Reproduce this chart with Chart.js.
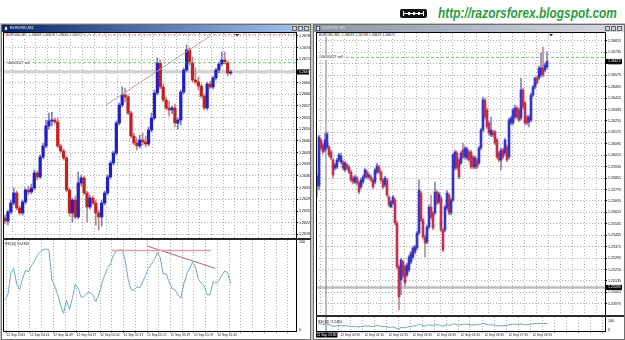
<!DOCTYPE html>
<html>
<head>
<meta charset="utf-8">
<title>EURUSD M1 / M5</title>
<script src="https://cdn.jsdelivr.net/npm/chart.js@4.4.1/dist/chart.umd.min.js"></script>
<style>
  body { margin: 0; width: 625px; height: 340px; position: relative; overflow: hidden; background: #fff; font-family: "Liberation Sans", Arial, sans-serif; }
  .a { position: absolute; }
  canvas { position: absolute; }
  .tiny { position: absolute; font-size: 7px; line-height: 8px; white-space: nowrap; transform: scale(0.5); transform-origin: 0 0; color: #111; }
  .win { background: #fff; border: 1px solid #6f6f6f; box-sizing: border-box; }
  .tbar { position: absolute; height: 7px; }
  .btn { position: absolute; top: 26px; width: 5px; height: 5px; background: #d4d0c8; border: 1px solid #666; box-sizing: border-box; }
  .frame { position: absolute; border: 1px solid #000; box-sizing: border-box; }
  .sep { position: absolute; background: #2a2a2a; }
  #url { left: 438px; top: 4px; font-size: 15px; font-weight: bold; font-style: italic; color: #2e9c3e; white-space: nowrap; transform-origin: 0 0; }
</style>
</head>
<body>

<!-- header -->
<div class="a" style="left:400px;top:9px;width:27px;height:9px;background:#111;border-radius:2px"></div>
<div class="a" style="left:404px;top:13px;width:19px;height:1px;background:#fff"></div>
<div class="a" style="left:403px;top:11px;width:1px;height:5px;background:#fff"></div>
<div class="a" style="left:423px;top:11px;width:1px;height:5px;background:#fff"></div>
<div class="a" style="left:408px;top:12px;width:2px;height:3px;background:#fff"></div>
<div class="a" style="left:413px;top:12px;width:2px;height:3px;background:#fff"></div>
<div class="a" style="left:418px;top:12px;width:2px;height:3px;background:#fff"></div>
<div id="url" class="a">http://razorsforex.blogspot.com</div>

<!-- terminal workspace -->
<div class="a" style="left:0;top:23px;width:625px;height:317px;background:#c9c6bf"></div>
<div class="a win" style="left:1px;top:24px;width:310px;height:316px"></div>
<div class="a win" style="left:313px;top:24px;width:312px;height:316px"></div>

<div class="tbar" style="left:2px;top:25px;width:308px;background:linear-gradient(90deg,#0a246a,#a6caf0)"></div>
<div class="a" style="left:4px;top:26px;width:4px;height:5px;background:#e8e8f8;border:1px solid #335;box-sizing:border-box"></div>
<div class="tiny" style="left:10px;top:25.5px;color:#fff;font-size:8px">EURUSD,M1</div>
<div class="btn" style="left:292px"></div><div class="btn" style="left:298px"></div><div class="btn" style="left:304px"></div>

<div class="tbar" style="left:314px;top:25px;width:310px;background:linear-gradient(90deg,#8a94a4,#d4dae4)"></div>
<div class="a" style="left:316px;top:26px;width:4px;height:5px;background:#e8e8f8;border:1px solid #557;box-sizing:border-box"></div>
<div class="tiny" style="left:322px;top:25.5px;color:#e4e4e4;font-size:8px">EURUSD,M5</div>
<div class="btn" style="left:605px"></div><div class="btn" style="left:611px"></div><div class="btn" style="left:617px"></div>

<canvas id="mainL" width="307" height="205" style="left:3px;top:33px"></canvas>
<canvas id="rsiL" width="307" height="98" style="left:3px;top:240px"></canvas>
<canvas id="mainR" width="307" height="282" style="left:316px;top:33px"></canvas>
<canvas id="rsiR" width="307" height="21" style="left:316px;top:317px"></canvas>

<div class="frame" style="left:3px;top:32px;width:294px;height:300px"></div>
<div class="sep" style="left:3px;top:238px;width:308px;height:2px"></div>
<div class="frame" style="left:316px;top:32px;width:290px;height:300px"></div>
<div class="sep" style="left:316px;top:315px;width:308px;height:2px"></div>

<div class="tiny" style="left:5px;top:33px;background:#fff;padding:0 2px">EURUSD,M1&nbsp; 1.26669 1.26678 1.26663 1.26672</div>
<div class="tiny" style="left:318px;top:33px;background:#fff;padding:0 2px">EURUSD,M5&nbsp; 1.26633 1.26738 1.26619 1.26672</div>
<div class="tiny" style="left:5px;top:241.5px;font-size:6.5px">RSI(14) 53.4333</div>
<div class="tiny" style="left:318px;top:320px;font-size:6.5px">RSI(14) 71.5464</div>

<script>
// ---------- left window: EURUSD M1 ----------
const openL = [1.26234, 1.26225, 1.26252, 1.26279, 1.26309, 1.26264, 1.26249, 1.26282, 1.26318, 1.26312,
  1.26324, 1.26369, 1.26357, 1.26417, 1.26450, 1.26510, 1.26525, 1.26528, 1.26522, 1.26450,
  1.26435, 1.26414, 1.26318, 1.26249, 1.26288, 1.26237, 1.26339, 1.26354, 1.26309, 1.26267,
  1.26294, 1.26279, 1.26249, 1.26237, 1.26279, 1.26309, 1.26357, 1.26399, 1.26429, 1.26519,
  1.26573, 1.26603, 1.26597, 1.26549, 1.26480, 1.26459, 1.26450, 1.26468, 1.26462, 1.26456,
  1.26498, 1.26534, 1.26609, 1.26699, 1.26627, 1.26588, 1.26564, 1.26558, 1.26564, 1.26519,
  1.26528, 1.26612, 1.26678, 1.26738, 1.26699, 1.26648, 1.26642, 1.26630, 1.26600, 1.26564,
  1.26636, 1.26627, 1.26654, 1.26678, 1.26696, 1.26708, 1.26699, 1.26669];
const highL = [1.26243, 1.26258, 1.26288, 1.26324, 1.26315, 1.26270, 1.26288, 1.26324, 1.26330, 1.26336,
  1.26378, 1.26375, 1.26423, 1.26459, 1.26528, 1.26549, 1.26552, 1.26534, 1.26534, 1.26456,
  1.26441, 1.26420, 1.26324, 1.26294, 1.26300, 1.26372, 1.26363, 1.26360, 1.26315, 1.26303,
  1.26300, 1.26288, 1.26258, 1.26288, 1.26315, 1.26363, 1.26405, 1.26435, 1.26525, 1.26579,
  1.26627, 1.26624, 1.26603, 1.26555, 1.26489, 1.26474, 1.26483, 1.26489, 1.26480, 1.26507,
  1.26549, 1.26618, 1.26714, 1.26708, 1.26636, 1.26597, 1.26585, 1.26570, 1.26576, 1.26534,
  1.26618, 1.26684, 1.26753, 1.26744, 1.26717, 1.26684, 1.26657, 1.26636, 1.26606, 1.26642,
  1.26645, 1.26660, 1.26684, 1.26702, 1.26732, 1.26732, 1.26705, 1.26678];
const lowL = [1.26216, 1.26213, 1.26246, 1.26273, 1.26258, 1.26243, 1.26243, 1.26276, 1.26303, 1.26306,
  1.26318, 1.26348, 1.26351, 1.26411, 1.26444, 1.26501, 1.26510, 1.26516, 1.26444, 1.26429,
  1.26408, 1.26312, 1.26240, 1.26222, 1.26231, 1.26231, 1.26330, 1.26303, 1.26222, 1.26261,
  1.26273, 1.26213, 1.26198, 1.26210, 1.26273, 1.26303, 1.26351, 1.26393, 1.26423, 1.26513,
  1.26567, 1.26582, 1.26543, 1.26474, 1.26453, 1.26438, 1.26444, 1.26453, 1.26447, 1.26450,
  1.26492, 1.26528, 1.26603, 1.26621, 1.26582, 1.26558, 1.26540, 1.26546, 1.26507, 1.26501,
  1.26513, 1.26606, 1.26672, 1.26693, 1.26642, 1.26636, 1.26618, 1.26594, 1.26558, 1.26558,
  1.26621, 1.26621, 1.26648, 1.26669, 1.26690, 1.26696, 1.26660, 1.26663];
const closeL = [1.26225, 1.26252, 1.26279, 1.26309, 1.26264, 1.26249, 1.26282, 1.26318, 1.26312, 1.26324,
  1.26369, 1.26357, 1.26417, 1.26450, 1.26510, 1.26525, 1.26528, 1.26522, 1.26450, 1.26435,
  1.26414, 1.26318, 1.26249, 1.26288, 1.26237, 1.26339, 1.26354, 1.26309, 1.26267, 1.26294,
  1.26279, 1.26249, 1.26237, 1.26279, 1.26309, 1.26357, 1.26399, 1.26429, 1.26519, 1.26573,
  1.26603, 1.26597, 1.26549, 1.26480, 1.26459, 1.26450, 1.26468, 1.26462, 1.26456, 1.26498,
  1.26534, 1.26609, 1.26699, 1.26627, 1.26588, 1.26564, 1.26558, 1.26564, 1.26519, 1.26528,
  1.26612, 1.26678, 1.26738, 1.26699, 1.26648, 1.26642, 1.26630, 1.26600, 1.26564, 1.26636,
  1.26627, 1.26654, 1.26678, 1.26696, 1.26708, 1.26699, 1.26669, 1.26672];
const rsiL = [34, 40, 65, 70, 52, 46, 58, 68, 66, 73, 78, 85, 89, 91, 92, 91, 57, 50, 40, 28,
  19, 34, 23, 36, 52, 47, 37, 38, 42, 43, 40, 32, 40, 52, 62, 70, 75, 85, 90, 91,
  91, 80, 58, 46, 45, 49, 48, 55, 62, 70, 75, 80, 88, 82, 64, 64, 55, 47, 46, 40,
  36, 52, 63, 70, 77, 72, 58, 53, 50, 40, 40, 55, 53, 56, 62, 67, 65, 53];
const timeBarsL = [0, 8, 16, 24, 32, 40, 48, 56, 64, 72];
const timeLabelsL = ['12 Sep 2013', '12 Sep 04:41', '12 Sep 04:49', '12 Sep 04:57', '12 Sep 05:05',
  '12 Sep 05:13', '12 Sep 05:21', '12 Sep 05:29', '12 Sep 05:37', '12 Sep 05:45'];
const priceTicksL = [1.26780, 1.26745, 1.26710, 1.26675, 1.26640, 1.26605, 1.26570, 1.26535, 1.26500,
  1.26465, 1.26430, 1.26395, 1.26360, 1.26325, 1.26290, 1.26255, 1.26220, 1.26185];
// drawn objects: trend line on price, levels on RSI, order line
const trendL = { x1: 34.5, y1: 1.26573, x2: 70, y2: 1.26780 };
const rsiFlatL = { x1: 36.5, y1: 90.2, x2: 70.3, y2: 90.2 };
const rsiSlopeL = { x1: 48.5, y1: 95.5, x2: 71.7, y2: 70.1 };
const sellLevel = 1.26700;
const askLevelL = 1.26785;

// ---------- right window: EURUSD M5 ----------
const openR = [1.25870, 1.25800, 1.26122, 1.26087, 1.26052, 1.26073, 1.26073, 1.26038, 1.25982, 1.25926,
  1.25933, 1.25982, 1.25968, 1.25968, 1.25912, 1.25947, 1.25933, 1.25898, 1.25856, 1.25828,
  1.25856, 1.25821, 1.25793, 1.25828, 1.25863, 1.25898, 1.25863, 1.25863, 1.25842, 1.25828,
  1.25898, 1.25933, 1.25898, 1.25842, 1.25807, 1.25842, 1.25723, 1.25653, 1.25681, 1.25702,
  1.25541, 1.25233, 1.25142, 1.25268, 1.25233, 1.25177, 1.25212, 1.25268, 1.25303, 1.25338,
  1.25366, 1.25471, 1.25751, 1.25562, 1.25443, 1.25408, 1.25513, 1.25653, 1.25611, 1.25611,
  1.25758, 1.25688, 1.25716, 1.25492, 1.25492, 1.25646, 1.25737, 1.25611, 1.25702, 1.25926,
  1.26031, 1.25982, 1.25961, 1.26052, 1.26003, 1.25996, 1.26038, 1.26038, 1.26003, 1.25933,
  1.25982, 1.25961, 1.26066, 1.26192, 1.26402, 1.26332, 1.26241, 1.26157, 1.26178, 1.26178,
  1.26122, 1.26031, 1.25982, 1.26052, 1.26031, 1.26073, 1.26003, 1.26241, 1.26241, 1.26283,
  1.26346, 1.26332, 1.26276, 1.26472, 1.26381, 1.26283, 1.26248, 1.26262, 1.26437, 1.26493,
  1.26556, 1.26556, 1.26577, 1.26626, 1.26612, 1.26633];
const highR = [1.25884, 1.26157, 1.26136, 1.26101, 1.26171, 1.26178, 1.26087, 1.26052, 1.25996, 1.25961,
  1.25996, 1.26031, 1.26031, 1.25982, 1.25975, 1.25961, 1.25947, 1.25912, 1.25870, 1.25877,
  1.25870, 1.25835, 1.25856, 1.25877, 1.25926, 1.25912, 1.25891, 1.25877, 1.25856, 1.25926,
  1.25961, 1.25947, 1.25912, 1.25856, 1.25870, 1.25856, 1.25737, 1.25702, 1.25737, 1.25716,
  1.25555, 1.25247, 1.25296, 1.25282, 1.25247, 1.25261, 1.25317, 1.25345, 1.25380, 1.25387,
  1.25485, 1.25842, 1.25765, 1.25576, 1.25457, 1.25527, 1.25667, 1.25737, 1.25625, 1.25828,
  1.25772, 1.25758, 1.25730, 1.25506, 1.25667, 1.25772, 1.25751, 1.25716, 1.26031, 1.26052,
  1.26045, 1.25996, 1.26045, 1.26101, 1.26080, 1.26073, 1.26052, 1.26052, 1.26017, 1.26010,
  1.25996, 1.26080, 1.26206, 1.26423, 1.26416, 1.26346, 1.26255, 1.26283, 1.26192, 1.26192,
  1.26136, 1.26045, 1.26066, 1.26066, 1.26136, 1.26087, 1.26276, 1.26290, 1.26346, 1.26367,
  1.26360, 1.26346, 1.26556, 1.26486, 1.26395, 1.26297, 1.26297, 1.26451, 1.26507, 1.26563,
  1.26570, 1.26640, 1.26731, 1.26773, 1.26661, 1.26738];
const lowR = [1.25723, 1.25772, 1.26052, 1.26024, 1.26038, 1.26059, 1.26003, 1.25982, 1.25856, 1.25912,
  1.25919, 1.25968, 1.25954, 1.25912, 1.25898, 1.25912, 1.25884, 1.25828, 1.25814, 1.25814,
  1.25807, 1.25744, 1.25779, 1.25814, 1.25849, 1.25849, 1.25849, 1.25828, 1.25779, 1.25814,
  1.25884, 1.25884, 1.25828, 1.25779, 1.25793, 1.25723, 1.25653, 1.25646, 1.25667, 1.25527,
  1.25219, 1.24932, 1.25040, 1.25156, 1.25093, 1.25163, 1.25198, 1.25254, 1.25289, 1.25324,
  1.25352, 1.25457, 1.25548, 1.25429, 1.25303, 1.25394, 1.25499, 1.25569, 1.25492, 1.25597,
  1.25667, 1.25674, 1.25478, 1.25338, 1.25478, 1.25632, 1.25597, 1.25597, 1.25688, 1.25912,
  1.25912, 1.25849, 1.25947, 1.25989, 1.25989, 1.25982, 1.25968, 1.25919, 1.25919, 1.25919,
  1.25919, 1.25947, 1.26052, 1.26178, 1.26269, 1.26199, 1.26157, 1.26143, 1.26143, 1.26087,
  1.25989, 1.25968, 1.25912, 1.25989, 1.26017, 1.25968, 1.25989, 1.26227, 1.26227, 1.26269,
  1.26269, 1.26248, 1.26262, 1.26339, 1.26227, 1.26227, 1.26213, 1.26248, 1.26423, 1.26479,
  1.26507, 1.26542, 1.26563, 1.26563, 1.26598, 1.26619];
const closeR = [1.25800, 1.26143, 1.26066, 1.26038, 1.26122, 1.26164, 1.26017, 1.25996, 1.25877, 1.25947,
  1.25982, 1.26017, 1.26010, 1.25926, 1.25961, 1.25926, 1.25898, 1.25842, 1.25828, 1.25863,
  1.25821, 1.25758, 1.25842, 1.25863, 1.25912, 1.25863, 1.25877, 1.25842, 1.25793, 1.25912,
  1.25940, 1.25898, 1.25842, 1.25793, 1.25856, 1.25737, 1.25667, 1.25688, 1.25723, 1.25541,
  1.25233, 1.25023, 1.25282, 1.25170, 1.25121, 1.25247, 1.25303, 1.25331, 1.25366, 1.25373,
  1.25471, 1.25772, 1.25562, 1.25443, 1.25401, 1.25513, 1.25653, 1.25583, 1.25506, 1.25758,
  1.25681, 1.25744, 1.25492, 1.25352, 1.25653, 1.25751, 1.25611, 1.25702, 1.26017, 1.26038,
  1.25926, 1.25863, 1.26031, 1.26003, 1.26066, 1.26059, 1.25982, 1.25933, 1.25933, 1.25996,
  1.25933, 1.26066, 1.26192, 1.26402, 1.26283, 1.26213, 1.26171, 1.26192, 1.26157, 1.26101,
  1.26003, 1.25982, 1.26052, 1.26003, 1.26122, 1.25982, 1.26262, 1.26276, 1.26332, 1.26346,
  1.26283, 1.26262, 1.26472, 1.26353, 1.26241, 1.26241, 1.26283, 1.26437, 1.26493, 1.26556,
  1.26521, 1.26626, 1.26626, 1.26577, 1.26647, 1.26672];
const rsiR = [48, 72, 66, 60, 64, 68, 58, 52, 40,
  44, 46, 50, 52, 46, 48, 45, 43, 38, 36, 40, 37,
  33, 40, 42, 46, 44, 45, 42, 38, 46, 50, 45, 40, 36, 40, 32, 28, 32, 35,
  25, 16, 12, 28, 26, 24, 32, 36, 40, 44, 45, 50,
  66, 55, 46, 44, 52, 58, 54, 50, 60, 56, 58, 48, 42, 52, 58, 52, 55,
  68, 66, 58, 54, 60, 62, 64, 64, 60, 56, 56, 58, 56, 62,
  66, 74, 66, 60, 56, 58, 56, 52, 45, 43, 48, 46, 52, 46, 60, 62, 64, 66, 62, 60,
  70, 64, 58, 58, 60, 66, 68, 72, 70, 74, 75, 72, 72, 72];
const timeBarsR = [0, 12, 24, 36, 48, 60, 72, 84, 96, 108];
const timeLabelsR = ['11 Sep 23:35', '12 Sep 00:35', '12 Sep 01:35', '12 Sep 02:35', '12 Sep 03:35',
  '12 Sep 04:35', '12 Sep 05:35', '12 Sep 06:35', '12 Sep 07:35', '12 Sep 08:35'];
const priceTicksR = [1.26815, 1.26735, 1.26655, 1.26575, 1.26495, 1.26415, 1.26335, 1.26255, 1.26175,
  1.26095, 1.26015, 1.25935, 1.25855, 1.25775, 1.25695, 1.25615, 1.25535, 1.25455, 1.25375,
  1.25295, 1.25215, 1.25135, 1.25055, 1.24975];
const supportR = 1.25090;
const daySepR = 4.5;   // 12 Sep 00:00 sits between bars 4 and 5

// ---------- shared look ----------
Chart.defaults.font.family = '"Liberation Sans", Arial, sans-serif';
Chart.defaults.animation = false;
const GRID = '#acacac';
const RSI_COL = '#72a9b8';

// draws the MT4 extras: order label, black price boxes, shift marker, highlighted time
const mt4Marks = {
  id: 'mt4Marks',
  afterDraw(chart, args, opts) {
    const ctx = chart.ctx;
    const area = chart.chartArea;
    const xs = chart.scales.x;
    const ys = chart.scales.y;
    ctx.save();
    ctx.font = '3.5px "Liberation Sans"';
    ctx.textBaseline = 'middle';
    (opts.notes || []).forEach(n => {
      const py = ys.getPixelForValue(n.value);
      const w = ctx.measureText(n.text).width;
      ctx.fillStyle = '#fff';
      ctx.fillRect(area.left + 2, py - 2.5, w + 2, 5);
      ctx.fillStyle = '#222';
      ctx.fillText(n.text, area.left + 3, py);
    });
    (opts.boxes || []).forEach(v => {
      const py = ys.getPixelForValue(v);
      ctx.fillStyle = '#000';
      ctx.fillRect(area.right + 1, py - 2.5, chart.width - area.right - 2, 5);
      ctx.fillStyle = '#fff';
      ctx.fillText(v.toFixed(5), area.right + 3, py);
    });
    if (opts.shift !== undefined) {
      const px = xs.getPixelForValue(opts.shift);
      ctx.fillStyle = '#333';
      ctx.beginPath();
      ctx.moveTo(px - 2, area.top + 1);
      ctx.lineTo(px + 2, area.top + 1);
      ctx.lineTo(px, area.top + 3.5);
      ctx.fill();
    }
    if (opts.timeBox) {
      const px = xs.getPixelForValue(opts.timeBox.value);
      ctx.font = '3.3px "Liberation Sans"';
      const w = ctx.measureText(opts.timeBox.text).width;
      ctx.fillStyle = '#000';
      ctx.fillRect(px - 1, area.bottom + 1.5, w + 2, 5);
      ctx.fillStyle = '#fff';
      ctx.fillText(opts.timeBox.text, px, area.bottom + 4);
    }
    ctx.restore();
  }
};

function candleSets(o, h, l, c, look) {
  const up = o.map((v, i) => c[i] >= v);
  return [
    {
      type: 'bar', order: 6, grouped: false, barThickness: 1,
      data: o.map((v, i) => ({ x: i, y: [l[i], h[i]] })),
      backgroundColor: up.map(u => u ? look.wickUp : look.wickDn)
    },
    {
      type: 'bar', order: 5, grouped: false, barThickness: look.body, minBarLength: 1,
      data: o.map((v, i) => ({ x: i, y: [Math.min(v, c[i]), Math.max(v, c[i])] })),
      backgroundColor: up.map(u => u ? look.up : look.dn)
    }
  ];
}

function seg(x1, y1, x2, y2, color, width, dash, order) {
  return {
    type: 'line', order: order,
    data: [{ x: x1, y: y1 }, { x: x2, y: y2 }],
    borderColor: color, borderWidth: width, borderDash: dash || [],
    pointRadius: 0, fill: false
  };
}

function xAxis(min, max, grid, labelFor, offset) {
  const withLabels = !!labelFor;
  return {
    type: 'linear', min: min, max: max, offset: false,
    grid: { color: GRID, drawTicks: withLabels, tickLength: 1.5, tickColor: '#000' },
    border: { display: false, dash: [1, 2] },
    ticks: withLabels
      ? { font: { size: 3.3 }, color: '#222', padding: 0.5, align: 'start', maxRotation: 0,
          autoSkip: false, labelOffset: offset, callback: labelFor }
      : { display: false },
    afterBuildTicks: s => { s.ticks = grid.map(v => ({ value: v })); },
    afterFit: s => { s.height = withLabels ? 7 : 0; s.paddingLeft = 0; s.paddingRight = 0; }
  };
}

function yAxis(min, max, ticks, width, withGrid, fmt) {
  return {
    position: 'right', min: min, max: max,
    grid: { display: withGrid, color: GRID, drawTicks: true, tickLength: 2, tickColor: '#000' },
    border: { display: false, dash: [1, 2] },
    ticks: { font: { size: 3.6 }, color: '#000', padding: 1, autoSkip: false, callback: fmt },
    afterBuildTicks: s => { s.ticks = ticks.map(v => ({ value: v })); },
    afterFit: s => { s.width = width; s.paddingTop = 0; s.paddingBottom = 0; }
  };
}

function baseOptions(scales, marks) {
  return {
    responsive: false, devicePixelRatio: 1, animation: false,
    layout: { padding: 0 },
    plugins: { legend: { display: false }, tooltip: { enabled: false }, mt4Marks: marks },
    scales: scales
  };
}

// vertical grid: every 4 bars on M1, every 6 bars on M5
const gridL = [];
for (let k = 0; k <= 24; k++) gridL.push(0.5 + 4 * k);
const gridR = [];
for (let k = 0; k <= 23; k++) gridR.push(4.5 + 6 * k);

const xMinL = -0.68, xMaxL = 99.32;
const xMinR = -0.5, xMaxR = 144;
const fmtPrice = v => v.toFixed(5);

const timeL = v => {
  const k = timeBarsL.indexOf(Math.round(v - 0.5));
  return k >= 0 ? timeLabelsL[k] : '';
};
const timeR = v => {
  const k = timeBarsR.indexOf(Math.round(v + 1.5));
  return k > 0 ? timeLabelsR[k] : '';
};

const lookL = { up: '#2020c4', dn: '#c42222', wickUp: '#7c7cc0', wickDn: '#c08888', body: 2.6 };
const lookR = { up: '#3434c8', dn: '#c03050', wickUp: '#8c80c0', wickDn: '#c08898', body: 2 };

// left price window
new Chart(document.getElementById('mainL'), {
  type: 'bar',
  data: {
    datasets: [
      seg(xMinL, closeL[closeL.length - 1], xMaxL, closeL[closeL.length - 1], '#d2d2d2', 3, [], 10),
      ...candleSets(openL, highL, lowL, closeL, lookL),
      seg(xMinL, askLevelL, xMaxL, askLevelL, '#e0a0a8', 1, [3, 2], 3),
      seg(xMinL, sellLevel, xMaxL, sellLevel, '#7cc47c', 1, [3, 2], 3),
      seg(trendL.x1, trendL.y1, trendL.x2, trendL.y2, '#c49a9a', 1, [], 1)
    ]
  },
  options: baseOptions({
    x: xAxis(xMinL, xMaxL, gridL),
    y: yAxis(1.26174, 1.26789, priceTicksL, 14, true, fmtPrice)
  }, { notes: [{ value: sellLevel, text: '#40003427 sell' }], boxes: [closeL[closeL.length - 1]], shift: 79.2 }),
  plugins: [mt4Marks]
});

// left RSI window
new Chart(document.getElementById('rsiL'), {
  type: 'line',
  data: {
    datasets: [
      { data: rsiL.map((v, i) => ({ x: i, y: v })), borderColor: RSI_COL, borderWidth: 1, pointRadius: 0, order: 2 },
      seg(rsiFlatL.x1, rsiFlatL.y1, rsiFlatL.x2, rsiFlatL.y2, '#e2a2aa', 1.5, [], 1),
      seg(rsiSlopeL.x1, rsiSlopeL.y1, rsiSlopeL.x2, rsiSlopeL.y2, '#b06474', 1, [], 1)
    ]
  },
  options: baseOptions({
    x: xAxis(xMinL, xMaxL, gridL, timeL, 0),
    y: yAxis(-1.14, 102.27, [0, 100], 14, false, v => String(v))
  }, {}),
  plugins: [mt4Marks]
});

// right price window
new Chart(document.getElementById('mainR'), {
  type: 'bar',
  data: {
    datasets: [
      seg(xMinR, supportR, xMaxR, supportR, '#bdbdbd', 2.5, [], 10),
      seg(daySepR, 1.24897, daySepR, 1.26871, '#7a7a7a', 1, [], 9),
      ...candleSets(openR, highR, lowR, closeR, lookR),
      seg(xMinR, sellLevel, xMaxR, sellLevel, '#7cc47c', 1, [3, 2], 3)
    ]
  },
  options: baseOptions({
    x: xAxis(xMinR, xMaxR, gridR),
    y: yAxis(1.24897, 1.26871, priceTicksR, 18, true, fmtPrice)
  }, { notes: [{ value: sellLevel, text: '#40003427 sell' }], boxes: [closeR[closeR.length - 1], supportR], shift: 117 }),
  plugins: [mt4Marks]
});

// right RSI window
new Chart(document.getElementById('rsiR'), {
  type: 'line',
  data: {
    datasets: [
      { data: rsiR.map((v, i) => ({ x: i, y: v })), borderColor: RSI_COL, borderWidth: 1, pointRadius: 0, order: 2 },
      seg(daySepR, -11, daySepR, 144, '#7a7a7a', 1, [], 3)
    ]
  },
  options: baseOptions({
    x: xAxis(xMinR, xMaxR, gridR, timeR, 2.5),
    y: yAxis(-11, 144, [0, 100], 18, false, v => String(v))
  }, { timeBox: { value: 0, text: timeLabelsR[0] } }),
  plugins: [mt4Marks]
});

// squeeze the blog address to the width it has in the header
const url = document.getElementById('url');
url.style.transform = 'scaleX(' + (179 / url.offsetWidth) + ')';
</script>
</body>
</html>
